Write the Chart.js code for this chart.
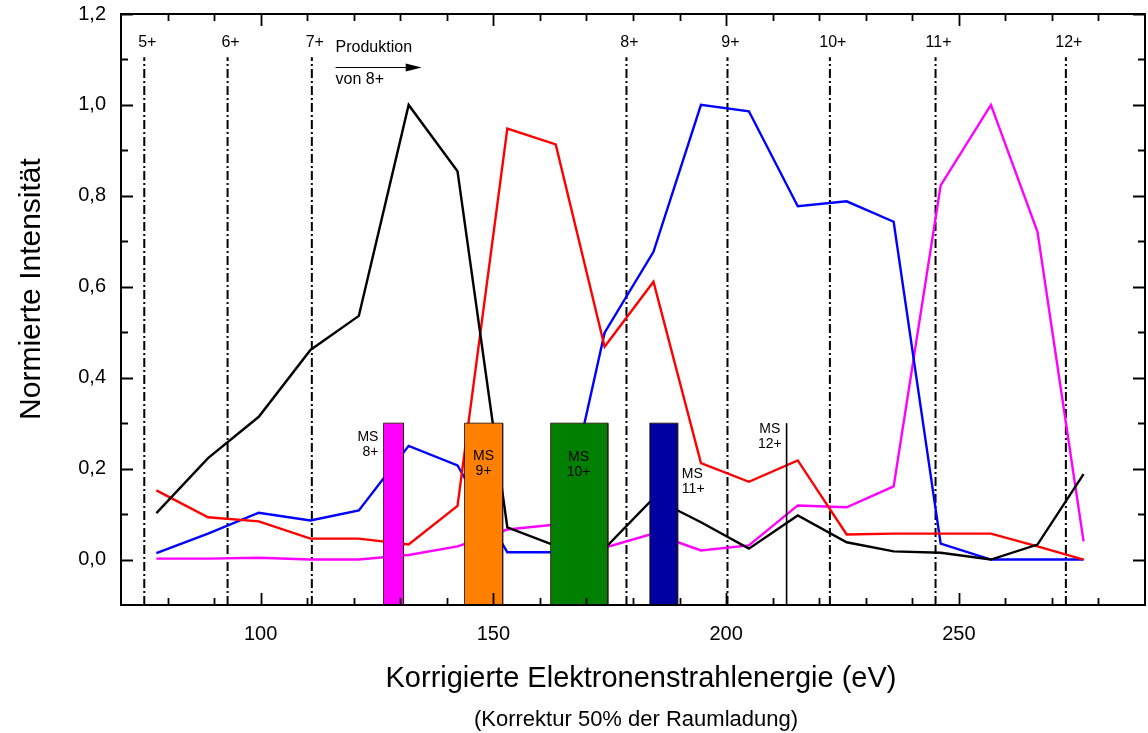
<!DOCTYPE html>
<html>
<head>
<meta charset="utf-8">
<script src="https://cdn.jsdelivr.net/npm/chart.js@4.4.1/dist/chart.umd.min.js"></script>
<style>
  html, body { margin: 0; padding: 0; background: #fff; }
  canvas { display: block; }
</style>
</head>
<body>
<canvas id="chart" width="1148" height="733"></canvas>
<script>
// Corrected electron beam energy (eV) of each measurement
const energy = [77.6, 88.7, 99.6, 110.7, 121.1, 131.8, 142.3, 153.0, 163.4, 173.9,
                184.4, 194.6, 204.9, 215.4, 225.9, 236.0, 246.1, 256.9, 266.9, 276.8];

// Normalised intensities of the four ion signals
const blackValues   = [0.102, 0.223, 0.314, 0.461, 0.536, 1.000, 0.854, 0.071, 0.030, 0.024,
                       0.135, 0.082, 0.024, 0.097, 0.038, 0.018, 0.015, 0.000, 0.033, 0.188];
const redValues     = [0.152, 0.093, 0.084, 0.046, 0.046, 0.033, 0.118, 0.948, 0.913, 0.468,
                       0.611, 0.212, 0.171, 0.218, 0.055, 0.057, 0.057, 0.057, 0.029, 0.000];
const blueValues    = [0.014, 0.057, 0.103, 0.086, 0.108, 0.250, 0.207, 0.016, 0.016, 0.499,
                       0.677, 1.000, 0.986, 0.777, 0.788, 0.743, 0.035, 0.000, 0.000, 0.000];
const magentaValues = [0.002, 0.002, 0.004, 0.000, 0.000, 0.010, 0.029, 0.066, 0.077, 0.026,
                       0.057, 0.020, 0.031, 0.119, 0.115, 0.161, 0.823, 1.000, 0.721, 0.040];

// Ionisation thresholds (dash-dot lines) and their labels
const thresholdEnergy = [75.0, 92.9, 111.0, 178.6, 200.3, 222.3, 245.0, 273.0];
const thresholdLabels = ['5+', '6+', '7+', '8+', '9+', '10+', '11+', '12+'];

// Metastable-state windows (MS bands)
const msStart  = [126.4, 143.8, 162.3, 183.6];
const msEnd    = [130.7, 152.0, 174.6, 189.6];
const msLabels = ['8+', '9+', '10+', '11+'];
const msHeight = 0.3;
const ms12Energy = 213.0;

// Axis ticks
const xMajorTicks = [100, 150, 200, 250];
const yMajorTicks = [0, 0.2, 0.4, 0.6, 0.8, 1.0, 1.2];
const xRange = [70, 290];
const yRange = [-0.1, 1.2];

const FONT = "'Liberation Sans', Arial, sans-serif";

const toPoints = vals => energy.map((e, i) => ({ x: e, y: vals[i] }));

function seriesSet(vals, color) {
  return {
    data: toPoints(vals), showLine: true, borderColor: color, borderWidth: 2.4,
    pointRadius: 0, fill: false, tension: 0, order: 1
  };
}

const datasets = [];
datasets.push(seriesSet(blackValues, '#000000'));
datasets.push(seriesSet(redValues, '#ff0000'));
datasets.push(seriesSet(blueValues, '#0000ff'));
datasets.push(seriesSet(magentaValues, '#ff00ff'));

const thresholdTop = 1.105;
thresholdEnergy.forEach(e => {
  datasets.push({
    data: [{ x: e, y: yRange[0] }, { x: e, y: thresholdTop }], showLine: true,
    borderColor: '#000', borderWidth: 2, borderDash: [9, 3, 2, 3], pointRadius: 0, order: 2
  });
});

const msColors = ['#ff00ff', '#ff8000', '#008000', '#0000a0'];
msStart.forEach((s, i) => {
  datasets.push({
    data: [{ x: s, y: yRange[0] }, { x: s, y: msHeight }, { x: msEnd[i], y: msHeight }, { x: msEnd[i], y: yRange[0] }],
    showLine: true, borderColor: 'rgba(40,20,0,0.85)', borderWidth: 1, pointRadius: 0,
    backgroundColor: msColors[i], fill: 'start', order: 0
  });
});
datasets.push({
  data: [{ x: ms12Energy, y: yRange[0] }, { x: ms12Energy, y: msHeight }], showLine: true,
  borderColor: '#000', borderWidth: 1.6, pointRadius: 0, order: 0
});

const decorations = {
  id: 'decorations',
  afterDraw(chart) {
    const { ctx, chartArea: a } = chart;
    const x = chart.scales.x, y = chart.scales.y;
    const px = v => x.getPixelForValue(v);
    const py = v => y.getPixelForValue(v);
    ctx.save();

    // frame
    ctx.strokeStyle = '#000';
    ctx.lineWidth = 2;
    ctx.strokeRect(a.left, a.top, a.right - a.left, a.bottom - a.top);

    // inward tick marks on all four sides
    ctx.lineWidth = 1.8;
    ctx.beginPath();
    for (let v = xRange[0] + 10; v < xRange[1]; v += 10) {
      const major = xMajorTicks.includes(v);
      const len = major ? 12 : 7;
      const p = Math.round(px(v)) + 0.5;
      ctx.moveTo(p, a.bottom); ctx.lineTo(p, a.bottom - len);
      ctx.moveTo(p, a.top); ctx.lineTo(p, a.top + len);
    }
    for (let k = 0; k <= 12; k++) {
      const v = k / 10;
      const major = k % 2 === 0;
      const len = major ? 12 : 7;
      const p = Math.round(py(v)) + 0.5;
      ctx.moveTo(a.left, p); ctx.lineTo(a.left + len, p);
      ctx.moveTo(a.right, p); ctx.lineTo(a.right - len, p);
    }
    ctx.stroke();

    ctx.fillStyle = '#000';

    // threshold labels
    ctx.font = '16px ' + FONT;
    ctx.textAlign = 'center';
    ctx.textBaseline = 'middle';
    thresholdEnergy.forEach((e, i) => {
      ctx.fillText(thresholdLabels[i], px(e) + 3, py(1.138));
    });

    // production note with arrow
    ctx.textAlign = 'left';
    ctx.fillText('Produktion', px(116.1), py(1.127));
    ctx.fillText('von 8+', px(116.1), py(1.055));
    const ay = Math.round(py(1.083)) + 0.5;
    const ax0 = px(116.1), ax1 = px(134.6);
    ctx.lineWidth = 1;
    ctx.beginPath();
    ctx.moveTo(ax0, ay); ctx.lineTo(ax1 - 10, ay); ctx.stroke();
    ctx.beginPath();
    ctx.moveTo(ax1, ay); ctx.lineTo(ax1 - 16, ay - 4); ctx.lineTo(ax1 - 16, ay + 4); ctx.closePath();
    ctx.fill();

    // MS labels
    ctx.font = '14px ' + FONT;
    const ms = (lines, xv, yv, align) => {
      ctx.textAlign = align;
      ctx.fillText(lines[0], px(xv), py(yv));
      ctx.fillText(lines[1], px(xv), py(yv) + 15);
    };
    ms(['MS', msLabels[0]], 125.3, 0.269, 'right');
    ms(['MS', msLabels[1]], 147.9, 0.227, 'center');
    ms(['MS', msLabels[2]], 168.3, 0.225, 'center');
    ms(['MS', msLabels[3]], 190.5, 0.188, 'left');
    ms(['MS', '12+'], 209.4, 0.287, 'center');

    // axis titles
    ctx.font = '29px ' + FONT;
    ctx.textAlign = 'center';
    ctx.textBaseline = 'alphabetic';
    ctx.fillText('Korrigierte Elektronenstrahlenergie (eV)', 641, 687);
    ctx.font = '22px ' + FONT;
    ctx.fillText('(Korrektur 50% der Raumladung)', 636, 726);
    ctx.save();
    ctx.translate(40, 289);
    ctx.rotate(-Math.PI / 2);
    ctx.font = '30px ' + FONT;
    ctx.fillText('Normierte Intensität', 0, 0);
    ctx.restore();

    ctx.restore();
  }
};

new Chart(document.getElementById('chart'), {
  type: 'scatter',
  data: { datasets },
  options: {
    responsive: false,
    animation: false,
    devicePixelRatio: 1,
    layout: { padding: { top: 14, right: 3, left: 0, bottom: 0 } },
    plugins: { legend: { display: false }, tooltip: { enabled: false } },
    scales: {
      x: {
        type: 'linear', min: xRange[0], max: xRange[1],
        grid: { display: false, drawTicks: false }, border: { display: false },
        afterBuildTicks: s => { s.ticks = xMajorTicks.map(v => ({ value: v })); },
        afterFit: s => { s.height = 128; s.paddingLeft = 0; s.paddingRight = 0; },
        ticks: { padding: 17, color: '#000', font: { family: FONT, size: 20 }, maxRotation: 0,
                 callback: v => String(v) }
      },
      y: {
        type: 'linear', min: yRange[0], max: yRange[1],
        grid: { display: false, drawTicks: false }, border: { display: false },
        afterBuildTicks: s => { s.ticks = yMajorTicks.map(v => ({ value: v })); },
        afterFit: s => { s.width = 121; s.paddingTop = 0; s.paddingBottom = 0; },
        ticks: { padding: 15, color: '#000', font: { family: FONT, size: 20 },
                 callback: v => v.toFixed(1).replace('.', ',') }
      }
    }
  },
  plugins: [decorations]
});
</script>
</body>
</html>
